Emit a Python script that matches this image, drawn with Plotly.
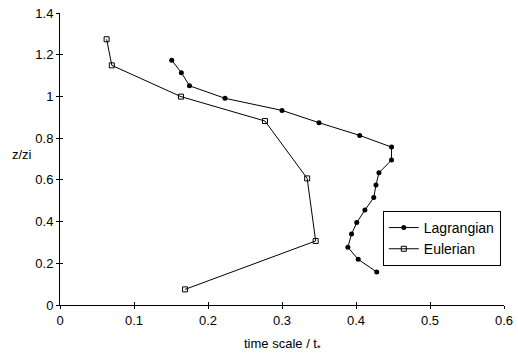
import plotly.graph_objects as go

lag_x = [0.151, 0.164, 0.175, 0.223, 0.300, 0.350, 0.405, 0.448, 0.448, 0.431,
         0.427, 0.424, 0.412, 0.401, 0.394, 0.389, 0.403, 0.428]
lag_z = [1.173, 1.114, 1.051, 0.991, 0.933, 0.874, 0.813, 0.757, 0.695, 0.634,
         0.575, 0.515, 0.455, 0.395, 0.340, 0.277, 0.219, 0.158]

eul_x = [0.063, 0.070, 0.1635, 0.277, 0.334, 0.3455, 0.169]
eul_z = [1.274, 1.149, 0.999, 0.882, 0.607, 0.307, 0.075]

x_ticks = [0, 0.1, 0.2, 0.3, 0.4, 0.5, 0.6]
x_labels = ["0", "0.1", "0.2", "0.3", "0.4", "0.5", "0.6"]
y_ticks = [0, 0.2, 0.4, 0.6, 0.8, 1.0, 1.2, 1.4]
y_labels = ["0", "0.2", "0.4", "0.6", "0.8", "1", "1.2", "1.4"]

FONT = "Liberation Sans, Arial, Helvetica, sans-serif"

fig = go.Figure()
fig.add_trace(go.Scatter(
    x=lag_x, y=lag_z, name="Lagrangian", mode="lines+markers",
    line=dict(color="black", width=1),
    marker=dict(symbol="circle", size=5, color="black"),
))
fig.add_trace(go.Scatter(
    x=eul_x, y=eul_z, name="Eulerian", mode="lines+markers",
    line=dict(color="black", width=1),
    marker=dict(symbol="square-open", size=5, color="black", line=dict(width=1)),
))
# empty helper trace so the overlay axes (inner half of the crossing ticks) render
fig.add_trace(go.Scatter(x=[], y=[], xaxis="x2", yaxis="y2",
                         showlegend=False, hoverinfo="skip"))

axis_common = dict(showgrid=False, zeroline=False, tickcolor="black",
                   ticklen=3, tickwidth=1)

fig.update_layout(
    width=518, height=354, autosize=False,
    margin=dict(l=60, r=14, t=13, b=49, autoexpand=False),
    paper_bgcolor="white", plot_bgcolor="white",
    font=dict(family=FONT, size=13, color="black"),
    showlegend=True,
    legend=dict(
        x=0.727, y=0.322, xanchor="left", yanchor="top",
        bordercolor="black", borderwidth=1, bgcolor="white",
        font=dict(size=14), tracegroupgap=0, itemwidth=30,
    ),
    xaxis=dict(
        range=[0, 0.6], tickvals=x_ticks, ticktext=x_labels,
        showline=True, linecolor="black", linewidth=1, ticks="outside",
        tickfont=dict(size=13), automargin=False, **axis_common,
    ),
    yaxis=dict(
        range=[0, 1.4], tickvals=y_ticks, ticktext=y_labels,
        showline=True, linecolor="black", linewidth=1, ticks="outside",
        tickfont=dict(size=13), automargin=False, **axis_common,
    ),
    xaxis2=dict(
        range=[0, 0.6], tickvals=x_ticks, overlaying="x", anchor="y",
        side="bottom", ticks="inside", showticklabels=False, showline=False,
        automargin=False, **axis_common,
    ),
    yaxis2=dict(
        range=[0, 1.4], tickvals=y_ticks, overlaying="y", anchor="x",
        side="left", ticks="inside", showticklabels=False, showline=False,
        automargin=False, **axis_common,
    ),
    annotations=[
        dict(text="z/zi", xref="paper", yref="paper", x=-0.085, y=0.517,
             xanchor="center", yanchor="middle", showarrow=False,
             font=dict(size=13)),
        dict(text="time scale / t<sub>*</sub>", xref="paper", yref="paper",
             x=0.5, y=-0.10, xanchor="center", yanchor="top", showarrow=False,
             font=dict(size=13)),
    ],
)

fig.write_html(
    "out.html",
    config={"displayModeBar": False},
    post_script="document.body.style.margin='0';document.body.style.overflow='hidden';",
)
